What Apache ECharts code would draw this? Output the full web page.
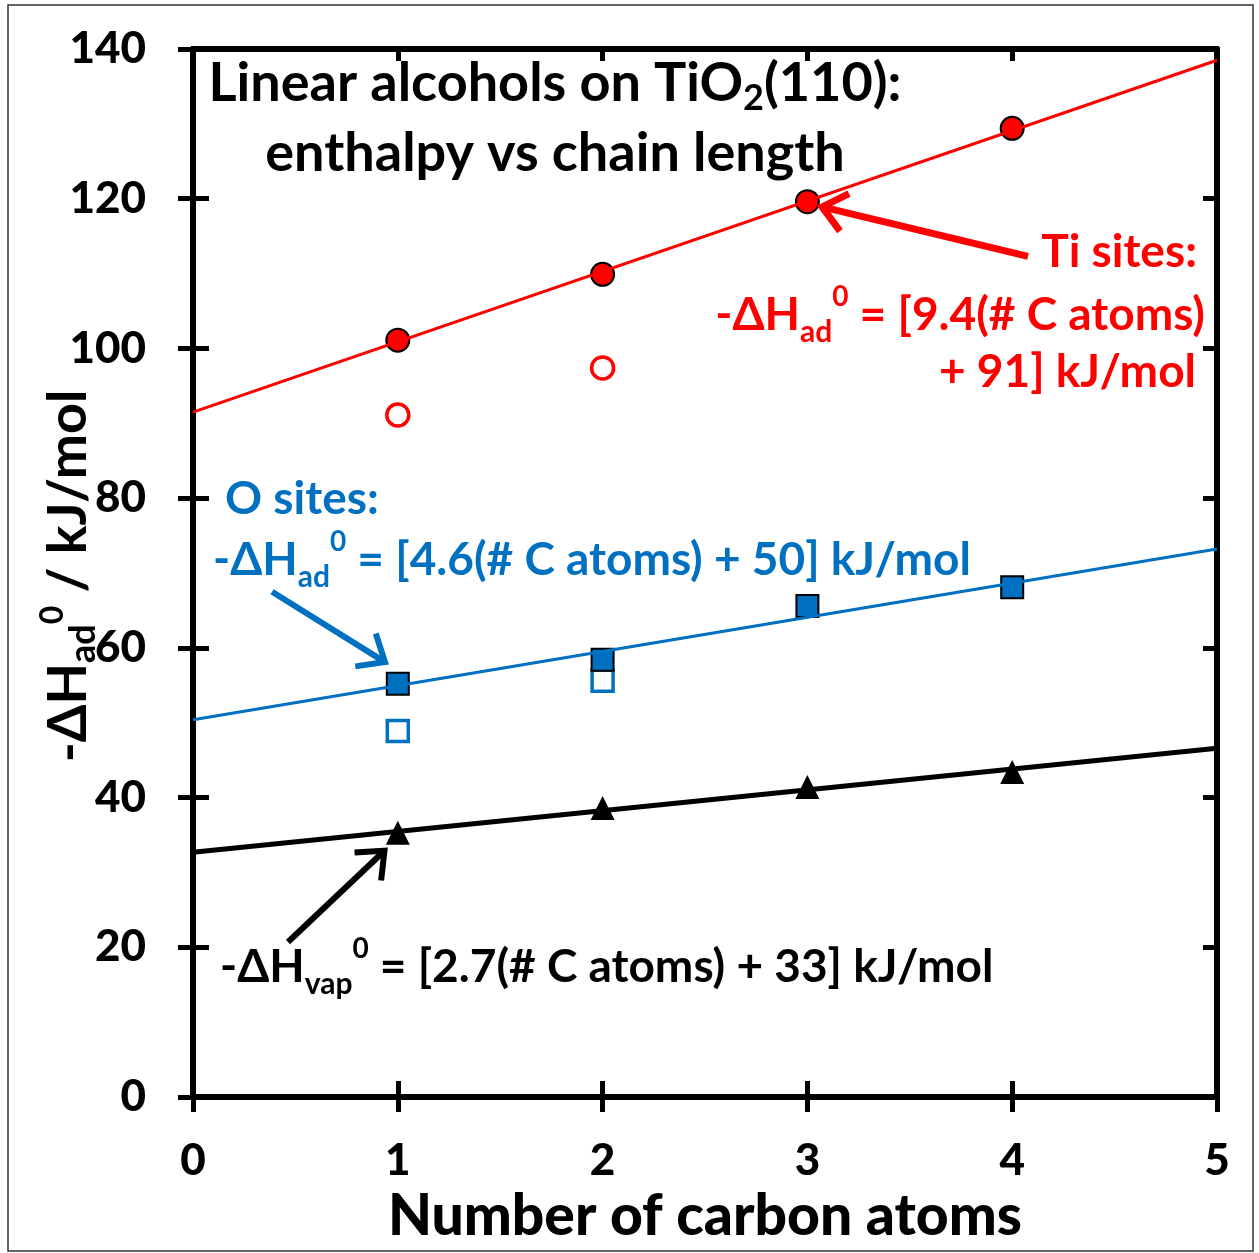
<!DOCTYPE html>
<html><head><meta charset="utf-8">
<script src="https://cdn.jsdelivr.net/npm/echarts@6/dist/echarts.min.js"></script>
<style>html,body{margin:0;padding:0;background:#fff}#c{width:1259px;height:1253px}</style>
</head><body><div id="c"></div>
<script>
// ---- data ----
const carbonAtoms = [1, 2, 3, 4];
const tiFilled = [101.1, 109.9, 119.6, 129.4];
const tiOpenX = [1, 2];
const tiOpen = [91.1, 97.4];
const oFilled = [55.2, 58.4, 65.6, 68.1];
const oOpenX = [1, 2];
const oOpen = [48.9, 55.6];
const vap = [35.3, 38.6, 41.4, 43.4];
const fitX = [0, 5];
const tiFit = [91.5, 138.5];
const oFit = [50.4, 73.2];
const vapFit = [32.7, 46.6];
const xTicks = [0, 1, 2, 3, 4, 5];
const yTicks = [0, 20, 40, 60, 80, 100, 120, 140];

const RED = '#FF0000', BLUE = '#0070C0', BLACK = '#000000';
const FONT = 'Lato';
const pts = (xs, ys) => xs.map((x, i) => [x, ys[i]]);

const chart = echarts.init(document.getElementById('c'), null, {renderer: 'canvas'});

const baseAxis = {
  type: 'value', splitLine: {show: false},
  axisLine: {show: true, onZero: false, lineStyle: {color: BLACK, width: 6}},
};
const xMin = xTicks[0], xMax = xTicks[xTicks.length - 1];
const yMin = yTicks[0], yMax = yTicks[yTicks.length - 1];

const option = {
  animation: false,
  backgroundColor: '#fff',
  grid: {left: 193, right: 42, top: 49, bottom: 156},
  xAxis: [
    Object.assign({}, baseAxis, {
      min: xMin, max: xMax, interval: 1, position: 'bottom',
      axisTick: {show: true, inside: false, length: 15, lineStyle: {color: BLACK, width: 5}},
      axisLabel: {margin: 42, fontSize: 44, fontWeight: 900, fontFamily: FONT, color: BLACK},
      name: 'Number of carbon atoms', nameLocation: 'middle', nameGap: 84,
      nameTextStyle: {fontSize: 57, fontWeight: 900, fontFamily: FONT, color: BLACK}
    }),
    Object.assign({}, baseAxis, {
      min: xMin, max: xMax, interval: 1, position: 'bottom',
      axisTick: {show: true, inside: true, length: 16, lineStyle: {color: BLACK, width: 5}},
      axisLabel: {show: false}
    }),
    Object.assign({}, baseAxis, {
      min: xMin, max: xMax, interval: 1, position: 'top',
      axisTick: {show: true, inside: true, length: 12, lineStyle: {color: BLACK, width: 5}},
      axisLabel: {show: false}
    })
  ],
  yAxis: [
    Object.assign({}, baseAxis, {
      min: yMin, max: yMax, interval: 20, position: 'left',
      axisTick: {show: true, inside: false, length: 15, lineStyle: {color: BLACK, width: 5}},
      axisLabel: {margin: 47, fontSize: 44, fontWeight: 900, fontFamily: FONT, color: BLACK}
    }),
    Object.assign({}, baseAxis, {
      min: yMin, max: yMax, interval: 20, position: 'left',
      axisTick: {show: true, inside: true, length: 16, lineStyle: {color: BLACK, width: 5}},
      axisLabel: {show: false}
    }),
    Object.assign({}, baseAxis, {
      min: yMin, max: yMax, interval: 20, position: 'right',
      axisTick: {show: true, inside: true, length: 14, lineStyle: {color: BLACK, width: 5}},
      axisLabel: {show: false}
    })
  ],
  series: [
    {type: 'scatter', name: 'Ti open', data: pts(tiOpenX, tiOpen), symbol: 'circle', symbolSize: 22,
     itemStyle: {color: '#fff', borderColor: RED, borderWidth: 3.5, opacity: 1}, z: 3},
    {type: 'scatter', name: 'O open', data: pts(oOpenX, oOpen), symbol: 'rect', symbolSize: 21,
     itemStyle: {color: '#fff', borderColor: BLUE, borderWidth: 3.5, opacity: 1}, z: 3},
    {type: 'scatter', name: 'Ti filled', data: pts(carbonAtoms, tiFilled), symbol: 'circle', symbolSize: 23,
     itemStyle: {color: RED, borderColor: BLACK, borderWidth: 2, opacity: 1}, z: 4},
    {type: 'scatter', name: 'O filled', data: pts(carbonAtoms, oFilled), symbol: 'rect', symbolSize: 22,
     itemStyle: {color: BLUE, borderColor: BLACK, borderWidth: 2, opacity: 1}, z: 4},
    {type: 'scatter', name: 'vap', data: pts(carbonAtoms, vap), symbol: 'triangle', symbolSize: 24,
     itemStyle: {color: BLACK, opacity: 1}, z: 4},
    {type: 'line', name: 'Ti fit', data: pts(fitX, tiFit), showSymbol: false, symbol: 'none',
     lineStyle: {color: RED, width: 3}, z: 5},
    {type: 'line', name: 'O fit', data: pts(fitX, oFit), showSymbol: false, symbol: 'none',
     lineStyle: {color: BLUE, width: 3}, z: 5},
    {type: 'line', name: 'vap fit', data: pts(fitX, vapFit), showSymbol: false, symbol: 'none',
     lineStyle: {color: BLACK, width: 5}, z: 5}
  ]
};
chart.setOption(option);

// ---- annotations ----
function richStyles(color, fs) {
  return {
    b: {fontSize: fs, fontWeight: 'bold', fontFamily: FONT, fill: color, lineHeight: 64},
    sub: {fontSize: Math.round(fs * 0.66), fontWeight: 'bold', fontFamily: FONT, fill: color, lineHeight: 28, verticalAlign: 'bottom'},
    sup: {fontSize: Math.round(fs * 0.6), fontWeight: 'bold', fontFamily: FONT, fill: color, lineHeight: 36, verticalAlign: 'top'}
  };
}
function txt(id, text, x, y, color, fs, align, rotation) {
  return {
    type: 'text', id: id, x: x, y: y, rotation: rotation || 0, z: 10,
    style: {text: text, fill: color, fontSize: fs, fontWeight: 'bold', fontFamily: FONT,
            align: align, verticalAlign: 'middle', rich: richStyles(color, fs)}
  };
}
// arrows in data coordinates: [tail, tip]
const arrows = [
  {id: 'arRed', from: [4.077, 112.3], to: [3.072, 118.9], color: RED, width: 7},
  {id: 'arBlue', from: [0.386, 67.5], to: [0.9375, 58.1], color: BLUE, width: 6},
  {id: 'arBlack', from: [0.464, 20.7], to: [0.935, 32.9], color: BLACK, width: 6}
];
const graphics = [
  {type: 'rect', id: 'frame', shape: {x: 8, y: 5, width: 1245, height: 1246}, z: 0,
   style: {fill: 'none', stroke: '#333', lineWidth: 1.5}},
  txt('t1', '{b|Linear alcohols on TiO}{sub|2}{b|(110):}', 555, 84, BLACK, 54, 'center'),
  txt('t2', 'enthalpy vs chain length', 555, 154, BLACK, 54, 'center'),
  txt('r1', 'Ti sites:', 1197, 252, RED, 46, 'right'),
  txt('r2', '{b|-ΔH}{sub|ad}{sup|0}{b| = [9.4(# C atoms)}', 1205, 315, RED, 46, 'right'),
  txt('r3', '+ 91] kJ/mol', 1196, 372, RED, 46, 'right'),
  txt('b1', 'O sites:', 225, 499, BLUE, 46, 'left'),
  txt('b2', '{b|-ΔH}{sub|ad}{sup|0}{b| = [4.6(# C atoms) + 50] kJ/mol}', 213, 560, BLUE, 46, 'left'),
  txt('k1', '{b|-ΔH}{sub|vap}{sup|0}{b| = [2.7(# C atoms) + 33] kJ/mol}', 220, 967, BLACK, 46, 'left'),
  txt('yname', '{b|-ΔH}{sub|ad}{sup|0}{b| / kJ/mol}', 69, 576, BLACK, 54, 'center', Math.PI / 2)
];
arrows.forEach(a => {
  const p0 = chart.convertToPixel({gridIndex: 0}, a.from);
  const p1 = chart.convertToPixel({gridIndex: 0}, a.to);
  const ang = Math.atan2(p1[1] - p0[1], p1[0] - p0[0]);
  const L = 30, phi = 0.7;
  const h1 = [p1[0] - L * Math.cos(ang - phi), p1[1] - L * Math.sin(ang - phi)];
  const h2 = [p1[0] - L * Math.cos(ang + phi), p1[1] - L * Math.sin(ang + phi)];
  graphics.push({type: 'polyline', id: a.id + 's', z: 9, shape: {points: [p0, p1]},
    style: {stroke: a.color, lineWidth: a.width, lineCap: 'butt'}});
  graphics.push({type: 'polyline', id: a.id + 'h', z: 9, shape: {points: [h1, p1, h2]},
    style: {stroke: a.color, lineWidth: a.width, lineJoin: 'miter', fill: 'none'}});
});
chart.setOption({graphic: graphics});
</script></body></html>
